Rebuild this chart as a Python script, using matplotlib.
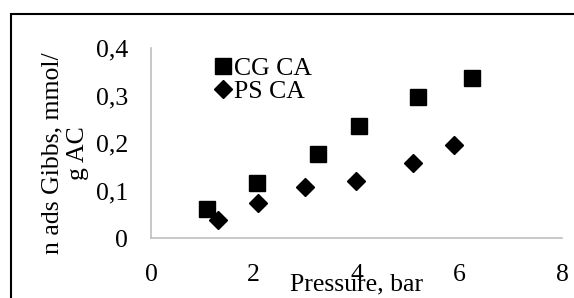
import matplotlib.pyplot as plt
from matplotlib.patches import Rectangle
from matplotlib.ticker import FuncFormatter

# CG CA series
cg_p = [1.09, 2.06, 3.25, 4.05, 5.2, 6.25]
cg_n = [0.061, 0.116, 0.177, 0.236, 0.297, 0.337]
# PS CA series
ps_p = [1.31, 2.08, 3.0, 4.0, 5.1, 5.9]
ps_n = [0.038, 0.074, 0.107, 0.12, 0.158, 0.196]

xticks = [0, 2, 4, 6, 8]
yticks = [0, 0.1, 0.2, 0.3, 0.4]

plt.rcParams['font.family'] = ['Liberation Serif', 'DejaVu Serif']
plt.rcParams['font.size'] = 18.5

fig = plt.figure(figsize=(5.74, 2.98), dpi=100)
ax = fig.add_axes([0.263, 0.201, 0.716, 0.638])

ax.plot(cg_p, cg_n, 's', color='black', ms=12, label='CG CA', linestyle='none')
ax.plot(ps_p, ps_n, 'D', color='black', ms=8.7, label='PS CA', linestyle='none')

ax.set_xlim(0, 8)
ax.set_ylim(0, 0.4)
ax.set_xticks(xticks)
ax.set_yticks(yticks)
ax.yaxis.set_major_formatter(FuncFormatter(lambda v, p: '0' if v == 0 else ('%.1f' % v).replace('.', ',')))
ax.tick_params(length=0)
ax.tick_params(axis='x', pad=19)
ax.tick_params(axis='y', pad=16.5)

for s in ['top', 'right']:
    ax.spines[s].set_visible(False)
for s in ['left', 'bottom']:
    ax.spines[s].set_color('#bfbfbf')
    ax.spines[s].set_linewidth(1.2)

ax.set_xlabel('Pressure, bar')
ax.xaxis.set_label_coords(0.5, -0.185)
ax.set_ylabel('n ads Gibbs, mmol/\ng AC', linespacing=1.2)
ax.yaxis.set_label_coords(-0.15, 0.447)

ax.legend(loc='upper left', bbox_to_anchor=(0.37, 0.81), bbox_transform=fig.transFigure,
          frameon=False, handlelength=0.8, handletextpad=0.05, labelspacing=0.0,
          borderaxespad=0, borderpad=0)

border = Rectangle((11 / 574, -0.1), 1.2, (298 - 14) / 298 + 0.1,
                   transform=fig.transFigure, fill=False,
                   edgecolor='black', linewidth=1.5, clip_on=False)
fig.add_artist(border)

fig.savefig('out.png', dpi=100)
